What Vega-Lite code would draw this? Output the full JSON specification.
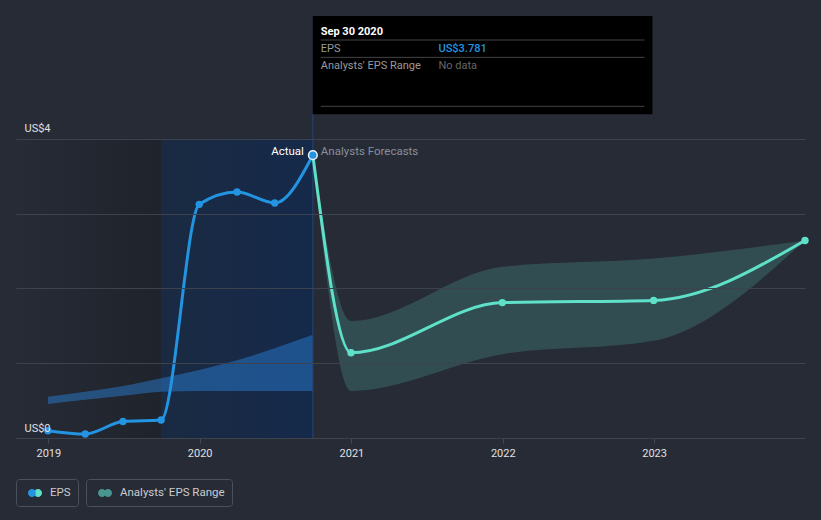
{
  "$schema": "https://vega.github.io/schema/vega-lite/v6.json",
  "width": 789,
  "height": 438,
  "autosize": "none",
  "padding": {"left": 16, "top": 0, "right": 16, "bottom": 82},
  "background": "#262b36",
  "config": {
    "view": {"stroke": null},
    "font": "Roboto",
    "axis": {"titleOpacity": 0}
  },
  "datasets": {
    "eps": [
      {"date": "2018-12-31", "eps": 0.098, "series": "EPS"},
      {"date": "2019-03-31", "eps": 0.053, "series": "EPS"},
      {"date": "2019-06-30", "eps": 0.22, "series": "EPS"},
      {"date": "2019-09-30", "eps": 0.24, "series": "EPS"},
      {"date": "2019-12-31", "eps": 3.124, "series": "EPS"},
      {"date": "2020-03-31", "eps": 3.289, "series": "EPS"},
      {"date": "2020-06-30", "eps": 3.142, "series": "EPS"},
      {"date": "2020-09-30", "eps": 3.781, "series": "EPS"}
    ],
    "forecast": [
      {"date": "2020-09-30", "eps": 3.781, "low": 3.781, "high": 3.781, "band": "Analysts' EPS Range"},
      {"date": "2020-12-31", "eps": 1.14, "low": 0.63, "high": 1.564, "band": "Analysts' EPS Range"},
      {"date": "2021-12-31", "eps": 1.81, "low": 1.12, "high": 2.29, "band": "Analysts' EPS Range"},
      {"date": "2022-12-31", "eps": 1.84, "low": 1.30, "high": 2.40, "band": "Analysts' EPS Range"},
      {"date": "2023-12-31", "eps": 2.64, "low": 2.64, "high": 2.64, "band": "Analysts' EPS Range"}
    ],
    "pastband": [
      {"date": "2018-12-31", "low": 0.455, "high": 0.552},
      {"date": "2019-03-31", "low": 0.51, "high": 0.62},
      {"date": "2019-06-30", "low": 0.566, "high": 0.695},
      {"date": "2019-09-30", "low": 0.62, "high": 0.80},
      {"date": "2019-12-31", "low": 0.63, "high": 0.91},
      {"date": "2020-03-31", "low": 0.63, "high": 1.04},
      {"date": "2020-06-30", "low": 0.63, "high": 1.20},
      {"date": "2020-09-30", "low": 0.63, "high": 1.38}
    ],
    "leftshade": [{"start": "2018-10-15", "end": "2019-09-30"}],
    "pastshade": [{"start": "2019-09-30", "end": "2020-09-30"}]
  },
  "layer": [
    {
      "data": {"name": "leftshade"},
      "mark": {"type": "rect", "color": {"gradient": "linear", "x1": 0, "x2": 1, "y1": 0, "y2": 0, "stops": [{"offset": 0, "color": "#262b36"}, {"offset": 1, "color": "#1f232b"}]}},
      "encoding": {
        "x": {"field": "start", "type": "temporal", "title": null,
          "scale": {"type": "utc", "nice": false, "domain": [{"year": 2018, "month": 10, "date": 15, "utc": true}, {"year": 2023, "month": 12, "date": 31, "utc": true}]},
          "axis": {"orient": "bottom", "format": "%Y", "formatType": "utc", "tickCount": "year", "grid": false, "domain": true, "domainColor": "#434956", "ticks": true, "tickColor": "#434956", "tickSize": 5, "labelColor": "#e0e0e0", "labelFont": "Roboto", "labelFontSize": 11, "labelPadding": 4}},
        "x2": {"field": "end"},
        "y": {"datum": 4, "type": "quantitative", "title": null,
          "scale": {"domain": [0, 5.856], "nice": false, "zero": false},
          "axis": {"orient": "left", "values": [0, 1, 2, 3, 4], "grid": true, "gridColor": "#3c424e", "gridWidth": 1, "domain": false, "ticks": false, "labelAlign": "left", "labelBaseline": "alphabetic", "labelPadding": -8, "labelOffset": -7, "labelColor": "#e0e0e0", "labelFont": "Roboto", "labelFontSize": 11, "zindex": 1,
            "labelExpr": "datum.value == 0 || datum.value == 4 ? 'US$' + datum.value : ''"}},
        "y2": {"datum": 0}
      }
    },
    {
      "data": {"name": "pastshade"},
      "mark": {"type": "rect", "color": {"gradient": "linear", "x1": 0, "x2": 1, "y1": 0, "y2": 0, "stops": [{"offset": 0, "color": "#1a2a42"}, {"offset": 1, "color": "#15294a"}]}},
      "encoding": {
        "x": {"field": "start", "type": "temporal"},
        "x2": {"field": "end"},
        "y": {"datum": 4, "type": "quantitative"},
        "y2": {"datum": 0}
      }
    },
    {
      "data": {"name": "pastband"},
      "mark": {"type": "area", "interpolate": "monotone", "color": "#2a84e0", "opacity": 0.45},
      "encoding": {
        "x": {"field": "date", "type": "temporal"},
        "y": {"field": "high", "type": "quantitative"},
        "y2": {"field": "low"}
      }
    },
    {
      "data": {"name": "forecast"},
      "mark": {"type": "area", "interpolate": "monotone", "fillOpacity": 0.32},
      "encoding": {
        "x": {"field": "date", "type": "temporal"},
        "y": {"field": "high", "type": "quantitative"},
        "y2": {"field": "low"},
        "fill": {"field": "band", "type": "nominal",
          "scale": {"domain": ["Analysts' EPS Range"], "range": ["#4a9590"]},
          "legend": {"title": null, "orient": "none", "legendX": 70, "legendY": 479, "direction": "horizontal", "padding": 7, "symbolOffset": 5,
            "strokeColor": "#4b505c", "cornerRadius": 3,
            "symbolType": "M -1 0 A 0.57 0.57 0 1 1 0.14 0 A 0.57 0.57 0 1 1 -1 0 Z M -0.14 0 A 0.57 0.57 0 1 1 1 0 A 0.57 0.57 0 1 1 -0.14 0 Z",
            "symbolSize": 196, "symbolOpacity": 1, "symbolStrokeWidth": 0,
            "labelColor": "#cccccc", "labelFont": "Roboto", "labelFontSize": 11.5, "labelOffset": 8,
            "labelExpr": "datum.label + '  '",
            "encode": {"symbols": {"update": {"fill": {"value": {"gradient": "linear", "x1": 0, "x2": 1, "y1": 0, "y2": 0, "stops": [{"offset": 0, "color": "#2a6593"}, {"offset": 0.52, "color": "#2a6593"}, {"offset": 0.56, "color": "#4a9590"}, {"offset": 1, "color": "#4a9590"}]}}, "fillOpacity": {"value": 1}, "opacity": {"value": 1}}}}}
        }
      }
    },
    {
      "data": {"values": [{}]},
      "mark": {"type": "rule", "color": "#24467a", "strokeWidth": 1},
      "encoding": {
        "x": {"datum": {"year": 2020, "month": 9, "date": 30, "utc": true}, "type": "temporal"},
        "y": {"datum": 0, "type": "quantitative"},
        "y2": {"datum": 4.328}
      }
    },
    {
      "data": {"name": "forecast"},
      "mark": {"type": "line", "interpolate": "monotone", "color": "#5fe0c8", "strokeWidth": 3},
      "encoding": {
        "x": {"field": "date", "type": "temporal"},
        "y": {"field": "eps", "type": "quantitative"}
      }
    },
    {
      "data": {"name": "forecast"},
      "mark": {"type": "circle", "color": "#5fe0c8", "size": 55, "opacity": 1},
      "encoding": {
        "x": {"field": "date", "type": "temporal"},
        "y": {"field": "eps", "type": "quantitative"}
      }
    },
    {
      "data": {"name": "eps"},
      "mark": {"type": "line", "interpolate": "monotone", "strokeWidth": 3},
      "encoding": {
        "x": {"field": "date", "type": "temporal"},
        "y": {"field": "eps", "type": "quantitative"},
        "stroke": {"field": "series", "type": "nominal",
          "scale": {"domain": ["EPS"], "range": ["#2394e2"]},
          "legend": {"title": null, "orient": "none", "legendX": 0, "legendY": 479, "direction": "horizontal", "padding": 7, "symbolOffset": 5,
            "strokeColor": "#4b505c", "cornerRadius": 3,
            "symbolType": "M -1 0 A 0.57 0.57 0 1 1 0.14 0 A 0.57 0.57 0 1 1 -1 0 Z M -0.14 0 A 0.57 0.57 0 1 1 1 0 A 0.57 0.57 0 1 1 -0.14 0 Z",
            "symbolSize": 196, "symbolOpacity": 1, "symbolStrokeWidth": 0,
            "labelColor": "#cccccc", "labelFont": "Roboto", "labelFontSize": 11.5, "labelOffset": 8,
            "labelExpr": "datum.label + '   '",
            "encode": {"symbols": {"update": {"fill": {"value": {"gradient": "linear", "x1": 0, "x2": 1, "y1": 0, "y2": 0, "stops": [{"offset": 0, "color": "#2394e2"}, {"offset": 0.52, "color": "#2394e2"}, {"offset": 0.56, "color": "#5fe0c8"}, {"offset": 1, "color": "#5fe0c8"}]}}, "stroke": {"value": "transparent"}, "opacity": {"value": 1}}}}}
        }
      }
    },
    {
      "data": {"name": "eps"},
      "mark": {"type": "circle", "color": "#2394e2", "size": 55, "opacity": 1},
      "encoding": {
        "x": {"field": "date", "type": "temporal"},
        "y": {"field": "eps", "type": "quantitative"}
      }
    },
    {
      "data": {"values": [{}]},
      "mark": {"type": "point", "shape": "circle", "filled": true, "fill": "#2394e2", "stroke": "#e8f2fb", "strokeWidth": 1.5, "size": 75, "opacity": 1},
      "encoding": {
        "x": {"datum": {"year": 2020, "month": 9, "date": 30, "utc": true}, "type": "temporal"},
        "y": {"datum": 3.781, "type": "quantitative"}
      }
    },
    {
      "data": {"values": [{}]},
      "mark": {"type": "text", "text": "Actual", "align": "right", "baseline": "alphabetic", "dx": -9, "color": "#ffffff", "font": "Roboto", "fontSize": 11.5},
      "encoding": {
        "x": {"datum": {"year": 2020, "month": 9, "date": 30, "utc": true}, "type": "temporal"},
        "y": {"datum": 3.781, "type": "quantitative"}
      }
    },
    {
      "data": {"values": [{}]},
      "mark": {"type": "text", "text": "Analysts Forecasts", "align": "left", "baseline": "alphabetic", "dx": 8, "color": "#8a8f98", "font": "Roboto", "fontSize": 11.5},
      "encoding": {
        "x": {"datum": {"year": 2020, "month": 9, "date": 30, "utc": true}, "type": "temporal"},
        "y": {"datum": 3.781, "type": "quantitative"}
      }
    },
    {
      "data": {"values": [{}]},
      "mark": {"type": "rect", "color": "#000000", "opacity": 1},
      "encoding": {
        "x": {"datum": {"year": 2020, "month": 9, "date": 30, "utc": true}, "type": "temporal"},
        "x2": {"datum": {"year": 2022, "month": 12, "date": 28, "utc": true}},
        "y": {"datum": 5.642, "type": "quantitative"},
        "y2": {"datum": 4.328}
      }
    },
    {
      "data": {"values": [{}]},
      "mark": {"type": "rule", "color": "#444444", "strokeWidth": 1},
      "encoding": {
        "x": {"datum": {"year": 2020, "month": 10, "date": 19, "utc": true}, "type": "temporal"},
        "x2": {"datum": {"year": 2022, "month": 12, "date": 9, "utc": true}},
        "y": {"datum": 5.321, "type": "quantitative"}
      }
    },
    {
      "data": {"values": [{}]},
      "mark": {"type": "rule", "color": "#444444", "strokeWidth": 1},
      "encoding": {
        "x": {"datum": {"year": 2020, "month": 10, "date": 19, "utc": true}, "type": "temporal"},
        "x2": {"datum": {"year": 2022, "month": 12, "date": 9, "utc": true}},
        "y": {"datum": 5.089, "type": "quantitative"}
      }
    },
    {
      "data": {"values": [{}]},
      "mark": {"type": "rule", "color": "#444444", "strokeWidth": 1},
      "encoding": {
        "x": {"datum": {"year": 2020, "month": 10, "date": 19, "utc": true}, "type": "temporal"},
        "x2": {"datum": {"year": 2022, "month": 12, "date": 9, "utc": true}},
        "y": {"datum": 4.435, "type": "quantitative"}
      }
    },
    {
      "data": {"values": [{}]},
      "mark": {"type": "text", "text": "Sep 30 2020", "align": "left", "baseline": "alphabetic", "color": "#ffffff", "font": "Roboto", "fontSize": 11, "fontWeight": "bold"},
      "encoding": {
        "x": {"datum": {"year": 2020, "month": 10, "date": 19, "utc": true}, "type": "temporal"},
        "y": {"datum": 5.388, "type": "quantitative"}
      }
    },
    {
      "data": {"values": [{}]},
      "mark": {"type": "text", "text": "EPS", "align": "left", "baseline": "alphabetic", "color": "#9a9a9a", "font": "Roboto", "fontSize": 11},
      "encoding": {
        "x": {"datum": {"year": 2020, "month": 10, "date": 19, "utc": true}, "type": "temporal"},
        "y": {"datum": 5.160, "type": "quantitative"}
      }
    },
    {
      "data": {"values": [{}]},
      "mark": {"type": "text", "text": "US$3.781", "align": "left", "baseline": "alphabetic", "color": "#2394e2", "font": "Roboto", "fontSize": 11, "fontWeight": 500},
      "encoding": {
        "x": {"datum": {"year": 2021, "month": 7, "date": 30, "utc": true}, "type": "temporal"},
        "y": {"datum": 5.160, "type": "quantitative"}
      }
    },
    {
      "data": {"values": [{}]},
      "mark": {"type": "text", "text": "Analysts' EPS Range", "align": "left", "baseline": "alphabetic", "color": "#9a9a9a", "font": "Roboto", "fontSize": 11},
      "encoding": {
        "x": {"datum": {"year": 2020, "month": 10, "date": 19, "utc": true}, "type": "temporal"},
        "y": {"datum": 4.929, "type": "quantitative"}
      }
    },
    {
      "data": {"values": [{}]},
      "mark": {"type": "text", "text": "No data", "align": "left", "baseline": "alphabetic", "color": "#666666", "font": "Roboto", "fontSize": 11},
      "encoding": {
        "x": {"datum": {"year": 2021, "month": 7, "date": 30, "utc": true}, "type": "temporal"},
        "y": {"datum": 4.929, "type": "quantitative"}
      }
    }
  ]
}
